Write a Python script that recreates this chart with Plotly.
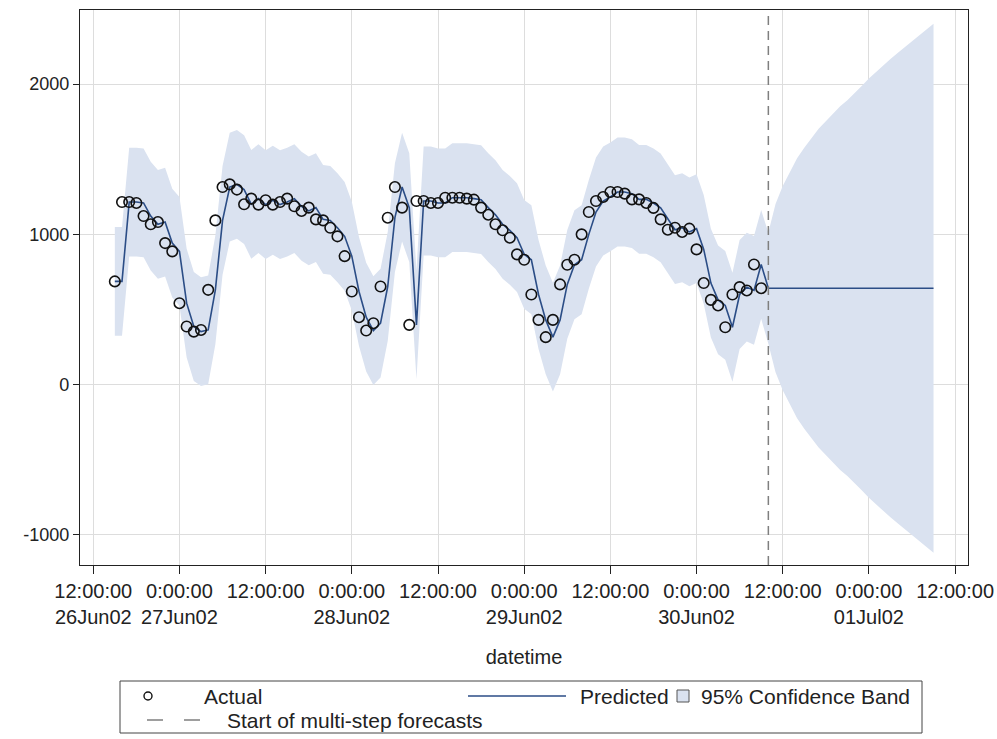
import pandas as pd
import plotly.graph_objects as go

# Hourly series: observed values, one-step predictions and 95% limits,
# followed by a 24-hour multi-step forecast.
start_time = "2002-06-26 15:00"
forecast_start = "2002-06-30 10:00"

actual = [
    687, 1215, 1215, 1209, 1122, 1067, 1082, 942, 887,
    542, 387, 353, 364, 631, 1093, 1315, 1333, 1298, 1200, 1238, 1198,
    1227, 1198, 1215, 1238, 1187, 1156, 1178, 1100, 1093, 1044, 987, 855,
    620, 449, 360, 409, 653, 1111, 1315, 1178, 398, 1222, 1222, 1209,
    1209, 1244, 1244, 1244, 1238, 1231, 1178, 1131, 1067, 1027, 978, 867,
    831, 600, 431, 316, 431, 667, 798, 831, 1000, 1149, 1222, 1249,
    1282, 1282, 1271, 1233, 1233, 1209, 1176, 1100, 1031, 1044, 1016, 1038,
    900, 676, 564, 527, 382, 600, 649, 627, 800, 642,
]

predicted = [
    687, 687, 1215, 1215, 1209, 1122, 1067, 1082, 942,
    887, 542, 387, 353, 364, 631, 1093, 1315, 1333, 1298, 1200, 1238,
    1198, 1227, 1198, 1215, 1238, 1187, 1156, 1178, 1100, 1093, 1044, 987,
    855, 620, 449, 360, 409, 653, 1111, 1315, 1178, 398, 1222, 1222,
    1209, 1209, 1244, 1244, 1244, 1238, 1231, 1178, 1131, 1067, 1027, 978,
    867, 831, 600, 431, 316, 431, 667, 798, 831, 1000, 1149, 1222,
    1249, 1282, 1282, 1271, 1233, 1233, 1209, 1176, 1100, 1031, 1044, 1016,
    1038, 900, 676, 564, 527, 382, 600, 649, 627, 800,
    642, 642, 642, 642, 642, 642, 642, 642, 642, 642, 642, 642,
    642, 642, 642, 642, 642, 642, 642, 642, 642, 642, 642, 642,
]

lower_95 = [
    325, 325, 853, 853, 847, 760, 705, 720, 580,
    525, 180, 25, -9, 2, 269, 731, 953, 971, 936, 838, 876,
    836, 865, 836, 853, 876, 825, 794, 816, 738, 731, 682, 625,
    493, 258, 87, -2, 47, 291, 749, 953, 816, 36, 860, 860,
    847, 847, 882, 882, 882, 876, 869, 816, 769, 705, 665, 616,
    505, 469, 238, 69, -46, 69, 305, 436, 469, 638, 787, 860,
    887, 920, 920, 909, 871, 871, 847, 814, 738, 669, 682, 654,
    676, 538, 314, 202, 165, 20, 238, 287, 265, 438,
    272, 82, -38, -133, -223, -293, -358, -418, -468, -518, -568, -608,
    -653, -703, -753, -798, -838, -883, -923, -963, -1003, -1043, -1078, -1118,
]

upper_95 = [
    1049, 1049, 1577, 1577, 1571, 1484, 1429, 1444, 1304,
    1249, 904, 749, 715, 726, 993, 1455, 1677, 1695, 1660, 1562, 1600,
    1560, 1589, 1560, 1577, 1600, 1549, 1518, 1540, 1462, 1455, 1406, 1349,
    1217, 982, 811, 722, 771, 1015, 1473, 1677, 1540, 760, 1584, 1584,
    1571, 1571, 1606, 1606, 1606, 1600, 1593, 1540, 1493, 1429, 1389, 1340,
    1229, 1193, 962, 793, 678, 793, 1029, 1160, 1193, 1362, 1511, 1584,
    1611, 1644, 1644, 1633, 1595, 1595, 1571, 1538, 1462, 1393, 1406, 1378,
    1400, 1262, 1038, 926, 889, 744, 962, 1011, 989, 1162,
    1012, 1202, 1322, 1417, 1507, 1577, 1642, 1702, 1752, 1802, 1852, 1892,
    1937, 1987, 2037, 2082, 2122, 2167, 2207, 2247, 2287, 2327, 2362, 2402,
]

tick_times = pd.date_range("2002-06-26 12:00", "2002-07-01 12:00", freq="12h")
tick_text = [
    "12:00:00<br>26Jun02", "0:00:00<br>27Jun02", "12:00:00",
    "0:00:00<br>28Jun02", "12:00:00", "0:00:00<br>29Jun02", "12:00:00",
    "0:00:00<br>30Jun02", "12:00:00", "0:00:00<br>01Jul02", "12:00:00",
]
y_ticks = [-1000, 0, 1000, 2000]
y_tick_text = ["-1000", "0", "1000", "2000"]

times = pd.date_range(start_time, periods=len(predicted), freq="h")
actual_times = times[: len(actual)]

BAND = "#DAE2F0"
FIT = "#2B4D86"
TEXT = "#222222"
FONT = "Liberation Sans, Arial, sans-serif"

fig = go.Figure()
fig.add_trace(go.Scatter(x=times, y=upper_95, mode="lines",
                         line=dict(width=0, color=BAND), showlegend=False,
                         hoverinfo="skip"))
fig.add_trace(go.Scatter(x=times, y=lower_95, mode="lines", fill="tonexty",
                         fillcolor=BAND, line=dict(width=0, color=BAND),
                         showlegend=False, name="95% Confidence Band"))
fig.add_trace(go.Scatter(x=times, y=predicted, mode="lines",
                         line=dict(color=FIT, width=1.6), showlegend=False,
                         name="Predicted"))
fig.add_trace(go.Scatter(x=actual_times, y=actual, mode="markers",
                         marker=dict(symbol="circle-open", size=10.5,
                                     color="#111111", line=dict(width=1.6)),
                         showlegend=False, name="Actual"))

# start of multi-step forecasts
fig.add_shape(type="line", xref="x", yref="paper",
              x0=forecast_start, x1=forecast_start, y0=0, y1=1,
              line=dict(color="#7F7F7F", width=1.5, dash="9px,6px"))

# Legend box drawn below the axis (pixel layout -> paper coordinates)
W, H = 997, 739
L, R, T, B = 80, 29, 10, 174
PW, PH = W - L - R, H - T - B


def px(x):
    return (x - L) / PW


def py(y):
    return (H - B - y) / PH


ROW1, ROW2 = 696, 720
legend_shapes = [
    dict(type="rect", x0=px(120), x1=px(922), y0=py(681), y1=py(733),
         line=dict(color="#444444", width=1), fillcolor="white"),
    dict(type="circle", x0=px(144), x1=px(152), y0=py(ROW1 - 4), y1=py(ROW1 + 4),
         line=dict(color="#111111", width=1.4)),
    dict(type="line", x0=px(468), x1=px(566), y0=py(ROW1), y1=py(ROW1),
         line=dict(color=FIT, width=1.6)),
    dict(type="rect", x0=px(677), x1=px(689), y0=py(ROW1 - 6), y1=py(ROW1 + 6),
         line=dict(color="#555555", width=1), fillcolor=BAND),
    dict(type="line", x0=px(147), x1=px(200), y0=py(ROW2), y1=py(ROW2),
         line=dict(color="#7F7F7F", width=1.3, dash="16px,21px")),
]
for s in legend_shapes:
    s.update(xref="paper", yref="paper")
    fig.add_shape(**s)

legend_labels = [
    (205, ROW1, "Actual", "left"),
    (668, ROW1, "Predicted", "right"),
    (702, ROW1, "95% Confidence Band", "left"),
    (228, ROW2, "Start of multi-step forecasts", "left"),
]
for x, y, text, anchor in legend_labels:
    fig.add_annotation(x=px(x), y=py(y), xref="paper", yref="paper",
                       text=text, showarrow=False, xanchor=anchor,
                       yanchor="middle", borderpad=0,
                       xshift=-2 if anchor == "left" else 2,
                       font=dict(family=FONT, size=21, color=TEXT))

fig.update_layout(
    width=W, height=H,
    margin=dict(l=L, r=R, t=T, b=B, autoexpand=False),
    paper_bgcolor="white", plot_bgcolor="white",
    font=dict(family=FONT, size=20, color=TEXT),
    showlegend=False,
)
fig.update_xaxes(
    type="date", automargin=False,
    range=["2002-06-26 10:09", "2002-07-01 13:48"],
    tickmode="array", tickvals=tick_times, ticktext=tick_text,
    ticks="outside", ticklen=8, tickcolor=TEXT,
    showgrid=True, gridcolor="#DDDDDD", gridwidth=1,
    showline=True, linecolor=TEXT, linewidth=1.2, mirror=True,
    zeroline=False,
    tickfont=dict(family=FONT, size=20, color=TEXT),
    title=dict(text="datetime", font=dict(family=FONT, size=20, color=TEXT),
               standoff=22),
)
fig.update_yaxes(
    automargin=False,
    range=[-1200, 2493],
    tickmode="array", tickvals=y_ticks, ticktext=y_tick_text,
    ticks="outside", ticklen=6, tickcolor=TEXT,
    showgrid=True, gridcolor="#DDDDDD", gridwidth=1,
    showline=True, linecolor=TEXT, linewidth=1.2, mirror=True,
    zeroline=False,
    tickfont=dict(family=FONT, size=18, color=TEXT),
)

fig.write_html("out.html")
